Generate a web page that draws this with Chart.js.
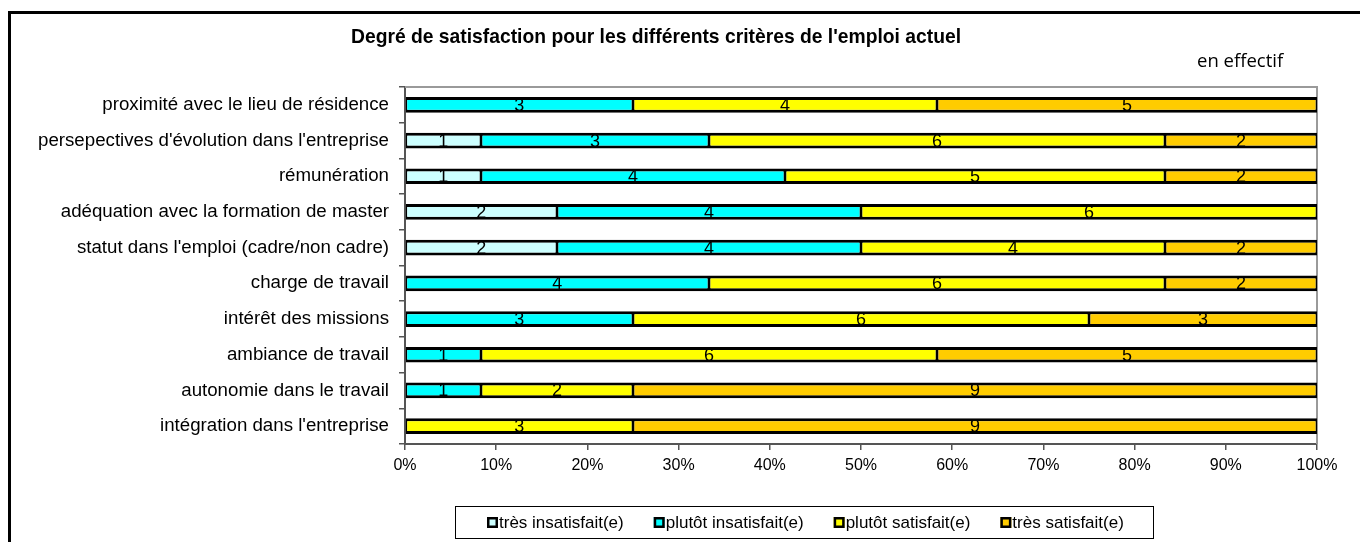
<!DOCTYPE html>
<html>
<head>
<meta charset="utf-8">
<script src="https://cdn.jsdelivr.net/npm/chart.js@4.4.1/dist/chart.umd.min.js"></script>
<style>
  html, body { margin: 0; padding: 0; background: #fff; }
  #wrap { position: relative; width: 1360px; height: 542px; overflow: hidden; }
</style>
</head>
<body>
<div id="wrap"><canvas id="satisfaction" width="1360" height="542"></canvas></div>
<script>
// criteres, du haut vers le bas
const categories = [
  "proximité avec le lieu de résidence",
  "persepectives d'évolution dans l'entreprise",
  "rémunération",
  "adéquation avec la formation de master",
  "statut dans l'emploi (cadre/non cadre)",
  "charge de travail",
  "intérêt des missions",
  "ambiance de travail",
  "autonomie dans le travail",
  "intégration dans l'entreprise"
];
const seriesLabels = ["très insatisfait(e)", "plutôt insatisfait(e)", "plutôt satisfait(e)", "très satisfait(e)"];
const tresInsatisfait   = [0, 1, 1, 2, 2, 0, 0, 0, 0, 0];
const plutotInsatisfait = [3, 3, 4, 4, 4, 4, 3, 1, 1, 0];
const plutotSatisfait   = [4, 6, 5, 6, 4, 6, 6, 6, 2, 3];
const tresSatisfait     = [5, 2, 2, 0, 2, 2, 3, 5, 9, 9];
const seriesColors = ['#CCFFFF', '#00FFFF', '#FFFF00', '#FFCC00'];

const counts = [tresInsatisfait, plutotInsatisfait, plutotSatisfait, tresSatisfait];
const totals = categories.map((c, i) => counts.reduce((s, arr) => s + arr[i], 0));

const datasets = counts.map((arr, k) => ({
  label: seriesLabels[k],
  data: arr.map((v, i) => v / totals[i] * 100),
  counts: arr,
  backgroundColor: seriesColors[k],
  borderColor: '#000',
  borderWidth: { top: 3, bottom: 3, left: 1.5, right: 1.5 },
  borderSkipped: false,
  barPercentage: 0.44,
  categoryPercentage: 1
}));

const decor = {
  id: 'decor',
  beforeDraw(chart) {
    const ctx = chart.ctx;
    ctx.save();
    ctx.fillStyle = '#fff';
    ctx.fillRect(0, 0, chart.width, chart.height);
    // cadre exterieur
    ctx.strokeStyle = '#000';
    ctx.lineWidth = 3;
    ctx.beginPath();
    ctx.moveTo(9.5, chart.height);
    ctx.lineTo(9.5, 12.5);
    ctx.lineTo(chart.width, 12.5);
    ctx.stroke();
    // titre
    ctx.fillStyle = '#000';
    ctx.font = 'bold 19.3px "Liberation Sans", Arial, sans-serif';
    ctx.textAlign = 'center';
    ctx.textBaseline = 'middle';
    ctx.fillText("Degré de satisfaction pour les différents critères de l'emploi actuel", 656, 38);
    ctx.font = '18.5px "Open Sans", sans-serif';
    ctx.textAlign = 'left';
    ctx.fillText('en effectif', 1197, 62);
    ctx.restore();
  },
  beforeDatasetsDraw(chart) {
    const a = chart.chartArea, ctx = chart.ctx;
    ctx.save();
    ctx.strokeStyle = '#9a9a9a';
    ctx.lineWidth = 2;
    ctx.beginPath();
    ctx.moveTo(a.left, a.top);
    ctx.lineTo(a.right, a.top);
    ctx.lineTo(a.right, a.bottom);
    ctx.stroke();
    ctx.restore();
  },
  afterDatasetsDraw(chart) {
    const ctx = chart.ctx;
    ctx.save();
    ctx.fillStyle = '#000';
    ctx.font = '18px "Liberation Sans", Arial, sans-serif';
    ctx.textAlign = 'center';
    ctx.textBaseline = 'middle';
    chart.data.datasets.forEach((ds, k) => {
      chart.getDatasetMeta(k).data.forEach((bar, i) => {
        const v = ds.counts[i];
        if (!v) return;
        const p = bar.getCenterPoint();
        ctx.fillText(String(v), p.x, p.y + 1);
      });
    });
    // legende
    ctx.lineWidth = 1;
    ctx.strokeStyle = '#000';
    ctx.strokeRect(455.5, 506.5, 698, 32);
    ctx.font = '17px "Liberation Sans", Arial, sans-serif';
    ctx.textAlign = 'left';
    const gap = 30;
    let x = 487;
    chart.data.datasets.forEach((ds, k) => {
      ctx.fillStyle = ds.backgroundColor;
      ctx.fillRect(x, 517, 11, 11);
      ctx.lineWidth = 2.5;
      ctx.strokeRect(x + 1.25, 518.25, 8.5, 8.5);
      ctx.fillStyle = '#000';
      ctx.fillText(ds.label, x + 12, 523);
      x += 12 + ctx.measureText(ds.label).width + gap;
    });
    ctx.restore();
  }
};

new Chart(document.getElementById('satisfaction'), {
  type: 'bar',
  data: { labels: categories, datasets },
  options: {
    indexAxis: 'y',
    responsive: false,
    animation: false,
    devicePixelRatio: 1,
    layout: { padding: { left: 0, top: 87, right: 43, bottom: 68 } },
    plugins: {
      legend: { display: false },
      title: { display: false },
      tooltip: { enabled: false }
    },
    scales: {
      x: {
        stacked: true,
        min: 0,
        max: 100,
        ticks: {
          stepSize: 10,
          color: '#000',
          padding: 6,
          font: { family: '"Liberation Sans", Arial, sans-serif', size: 16 },
          callback: v => v + '%'
        },
        grid: { drawOnChartArea: false, drawTicks: true, tickLength: 6, color: '#555', lineWidth: 1.5 },
        border: { display: true, color: '#555', width: 2 },
        afterFit: s => { s.height = 30; }
      },
      y: {
        stacked: true,
        ticks: {
          color: '#000',
          padding: 10,
          font: { family: '"Liberation Sans", Arial, sans-serif', size: 18.7 }
        },
        grid: { drawOnChartArea: false, drawTicks: true, tickLength: 6, color: '#555', lineWidth: 1.5, offset: true },
        border: { display: true, color: '#555', width: 2 },
        afterFit: s => { s.width = 405; }
      }
    }
  },
  plugins: [decor]
});
</script>
</body>
</html>
